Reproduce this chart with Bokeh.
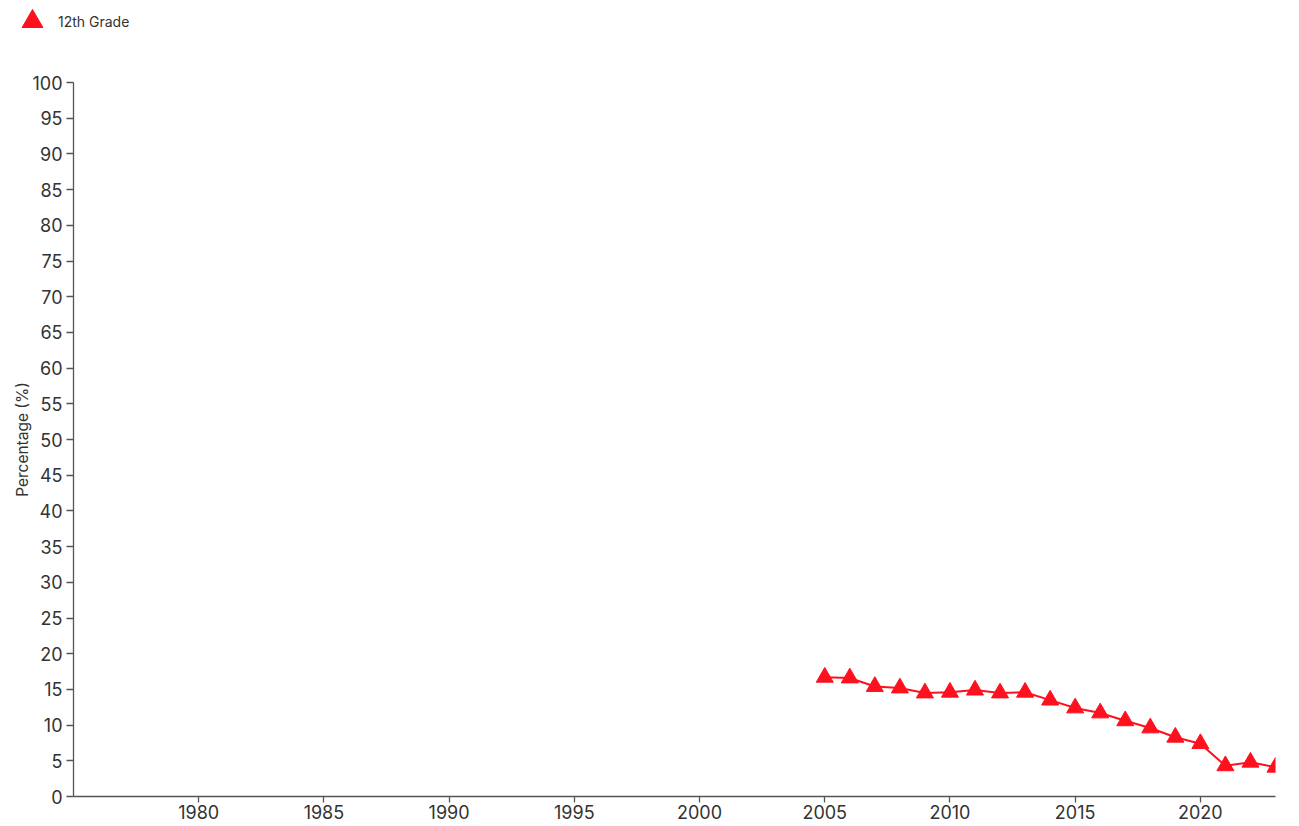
from bokeh.plotting import figure
from bokeh.layouts import column, row
from bokeh.models import Range1d, FixedTicker, Legend, LegendItem, ColumnDataSource
from bokeh.embed import file_html
from bokeh.resources import INLINE

years = [2005, 2006, 2007, 2008, 2009, 2010, 2011, 2012, 2013, 2014,
         2015, 2016, 2017, 2018, 2019, 2020, 2021, 2022, 2023]
values = [16.7, 16.6, 15.4, 15.2, 14.5, 14.6, 14.9, 14.5, 14.6, 13.5,
          12.4, 11.7, 10.6, 9.6, 8.3, 7.4, 4.3, 4.8, 4.1]
series_name = "12th Grade"
x_ticks = [1980, 1985, 1990, 1995, 2000, 2005, 2010, 2015, 2020]
y_ticks = list(range(0, 101, 5))

FONT = "Inter"
RED = "#ff101e"
AXIS = "#555555"
TXT = "#333333"

src = ColumnDataSource(dict(x=years, y=values))

# ---- legend strip (top) ----
lg = figure(width=1299, height=72, output_backend="svg", toolbar_location=None,
            x_axis_type=None, y_axis_type=None, min_border=0,
            x_range=Range1d(0, 1), y_range=Range1d(0, 1))
lg.outline_line_color = None
lg.xgrid.visible = False
lg.ygrid.visible = False
lg_pts = lg.scatter("x", "y", source=src, marker="triangle", size=17,
                    fill_color=RED, line_color=RED, line_width=1)
legend = Legend(items=[LegendItem(label=series_name, renderers=[lg_pts])],
                location=(6, 72 - 51), glyph_width=52, glyph_height=60,
                padding=0, margin=0, spacing=0, label_standoff=0,
                border_line_alpha=0, background_fill_alpha=0,
                label_text_font=FONT, label_text_font_size="14px",
                label_text_color=TXT)
lg.add_layout(legend, "center")

# ---- main chart ----
p = figure(frame_width=1202, frame_height=714, output_backend="svg", toolbar_location=None,
           x_range=Range1d(1975, 2023), y_range=Range1d(0, 100),
           min_border_left=73, min_border_top=10, min_border_right=24, min_border_bottom=29)
p.outline_line_color = None
p.xgrid.visible = False
p.ygrid.visible = False

p.line("x", "y", source=src, line_color=RED, line_width=2)
p.scatter("x", "y", source=src, marker="triangle", size=17,
          fill_color=RED, line_color=RED, line_width=1)

for ax in (p.xaxis[0], p.yaxis[0]):
    ax.axis_line_color = AXIS
    ax.axis_line_width = 1.3
    ax.major_tick_line_color = AXIS
    ax.major_tick_line_width = 1.3
    ax.minor_tick_line_color = None
    ax.major_tick_in = 0
    ax.major_label_text_font = FONT
    ax.major_label_text_color = TXT
    ax.major_label_text_font_size = "18px"

p.xaxis.ticker = FixedTicker(ticks=x_ticks)
p.xaxis.major_tick_out = 6
p.xaxis.major_label_standoff = 2

p.yaxis.ticker = FixedTicker(ticks=y_ticks)
p.yaxis.major_tick_out = 7
p.yaxis.major_label_standoff = 4
p.yaxis.axis_label = "Percentage (%)"
p.yaxis.axis_label_text_font = FONT
p.yaxis.axis_label_text_font_size = "15.5px"
p.yaxis.axis_label_text_font_style = "normal"
p.yaxis.axis_label_text_color = TXT
p.yaxis.axis_label_standoff = -3

layout = column(row(lg, spacing=0), p, spacing=0)
open("out.html", "w").write(file_html(layout, INLINE))
